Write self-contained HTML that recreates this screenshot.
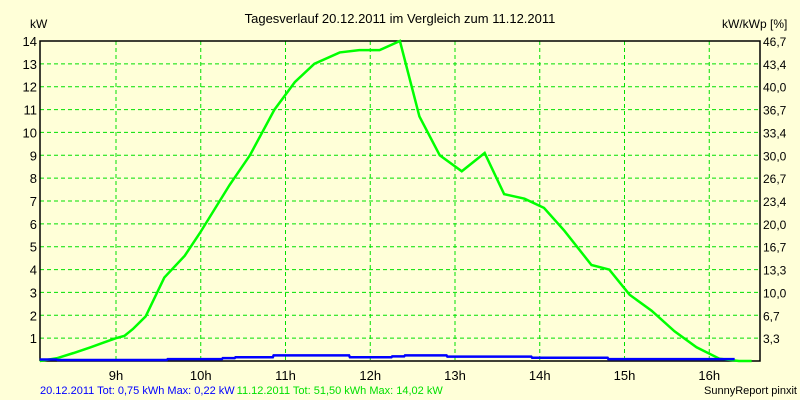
<!DOCTYPE html>
<html><head><meta charset="utf-8"><style>
body{margin:0;background:#ffffd8;}
svg{display:block;font-family:"Liberation Sans",sans-serif;}
</style></head><body>
<svg id="c" width="800" height="400" style="background:#ffffd8">
<text x="400" y="23" text-anchor="middle" font-size="13">Tagesverlauf 20.12.2011 im Vergleich zum 11.12.2011</text>
<text x="30" y="28" font-size="12">kW</text>
<text x="722" y="28" font-size="12">kW/kWp [%]</text>
<g id="grid"></g><g id="axes"></g><g id="series"></g>
<text x="40" y="394" font-size="11"><tspan fill="#0000ff">20.12.2011 Tot: 0,75 kWh Max: 0,22 kW</tspan><tspan fill="#00e000" dx="2">11.12.2011 Tot: 51,50 kWh Max: 14,02 kW</tspan></text>
<text x="797" y="394" font-size="11" text-anchor="end">SunnyReport pinxit</text>
</svg>
<script>
const hourTicks=[9,10,11,12,13,14,15,16];
const kwTicks=[1,2,3,4,5,6,7,8,9,10,11,12,13,14];
const pctLabels=["3,3","6,7","10,0","13,3","16,7","20,0","23,4","26,7","30,0","33,4","36,7","40,0","43,4","46,7"];
const greenTimes=[8.10,8.3,8.5,8.7,8.85,9.0,9.1,9.2,9.35,9.57,9.81,9.99,10.34,10.58,10.87,11.11,11.34,11.64,11.87,12.11,12.35,12.58,12.82,13.08,13.35,13.58,13.82,14.05,14.29,14.61,14.82,15.06,15.32,15.59,15.85,16.12,16.35,16.5];
const greenKw=[0,0.12,0.35,0.6,0.8,1.0,1.1,1.4,1.95,3.65,4.6,5.6,7.7,9.0,11.0,12.2,13.0,13.5,13.6,13.6,14.0,10.7,9.0,8.3,9.1,7.3,7.1,6.7,5.7,4.2,4.0,2.9,2.2,1.3,0.6,0.1,0,0];
const blueTimes=[8.1,8.3,8.31,9.6,9.61,10.25,10.26,10.4,10.41,10.85,10.86,11.75,11.76,12.25,12.26,12.4,12.41,12.9,12.91,13.9,13.91,14.8,14.81,16.3];
const blueKw=[0.02,0.02,0,0,0.04,0.04,0.08,0.08,0.12,0.12,0.2,0.2,0.12,0.12,0.16,0.16,0.2,0.2,0.15,0.15,0.1,0.1,0.04,0.04];
const L=40,R=760,T=41,B=361;
const xS=t=>116+(t-9)*84.75;
const yS=v=>B-(v/14)*(B-T);
const NS="http://www.w3.org/2000/svg";
function mk(tag,attrs,parent){const e=document.createElementNS(NS,tag);for(const k in attrs)e.setAttribute(k,attrs[k]);parent.appendChild(e);return e;}
const grid=document.getElementById('grid'),axes=document.getElementById('axes'),ser=document.getElementById('series');
kwTicks.forEach((v,i)=>{
 const l=mk('line',{x1:L,x2:R,y1:yS(v),y2:yS(v),stroke:'#00e000','stroke-dasharray':'4,3'},grid);
 
 
 const t=mk('text',{x:L-3,y:yS(v)+5,'text-anchor':'end','font-size':13},axes);t.textContent=v;
 
 
 const p=mk('text',{x:R+3,y:yS(v)+5,'font-size':12},axes);p.textContent=pctLabels[i];
 
 
});
hourTicks.forEach(h=>{
 const l=mk('line',{x1:xS(h),x2:xS(h),y1:T,y2:B,stroke:'#00e000','stroke-dasharray':'4,3'},grid);
 
 
 const t=mk('text',{x:xS(h),y:B+19,'text-anchor':'middle','font-size':13},axes);t.textContent=h+'h';
 
 
});
const ax=mk('path',{d:`M${L},${B}V${T}H${R}V${B}H${L}`,fill:'none',stroke:'#000','stroke-width':1.5},axes);


const g=mk('polyline',{points:greenTimes.map((t,i)=>xS(t)+','+yS(greenKw[i])).join(' '),fill:'none',stroke:'#00ff00','stroke-width':2.5},ser);


const b=mk('polyline',{points:blueTimes.map((t,i)=>xS(t)+','+(yS(blueKw[i])-1)).join(' '),fill:'none',stroke:'#0000ff','stroke-width':2.5},ser);


</script>
</body></html>
